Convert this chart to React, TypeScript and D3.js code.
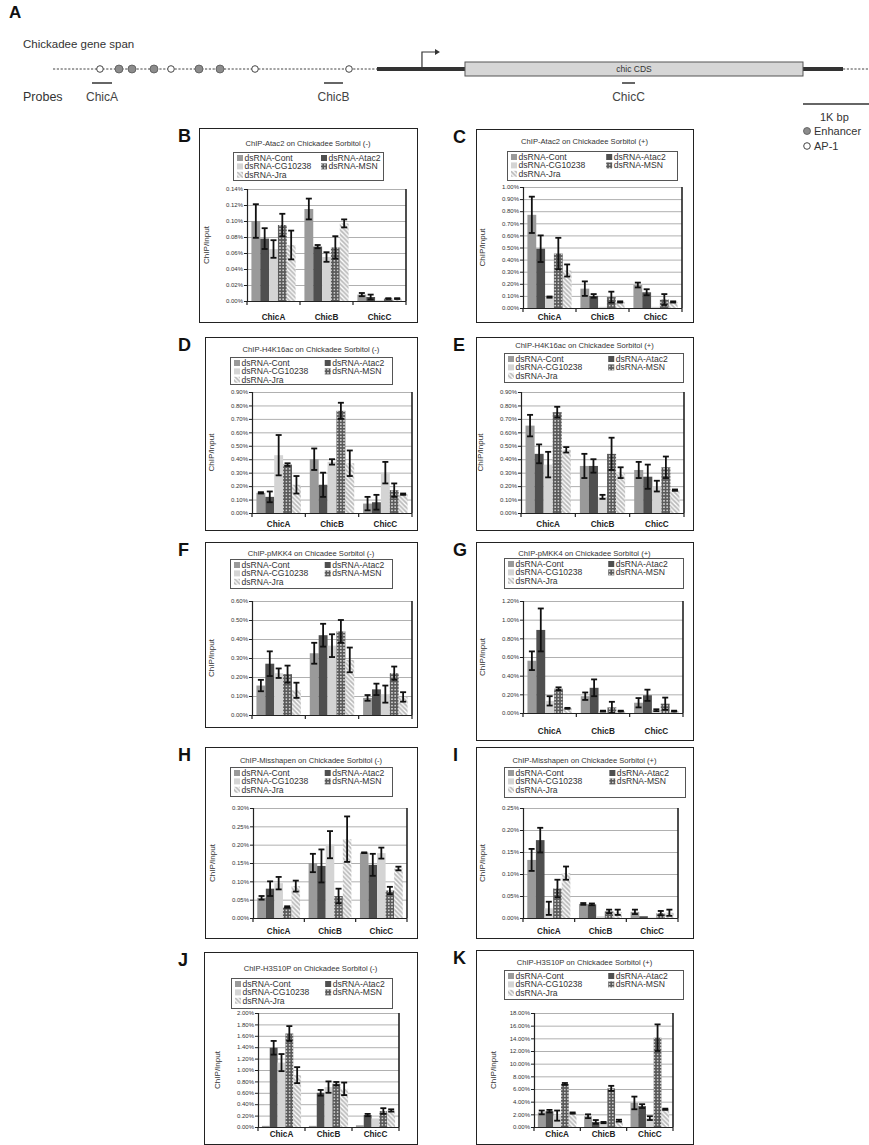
import React from 'react';
import * as d3 from 'd3';

const categories = ['ChicA', 'ChicB', 'ChicC'];
const seriesNames = ['dsRNA-Cont', 'dsRNA-Atac2', 'dsRNA-CG10238', 'dsRNA-MSN', 'dsRNA-Jra'];

// values in percent; rows = categories (ChicA, ChicB, ChicC), columns = series
const bMeans = [[0.100, 0.078, 0.065, 0.095, 0.070], [0.115, 0.068, 0.055, 0.067, 0.097], [0.008, 0.005, 0.001, 0.003, 0.003]];
const bErrors = [[0.021, 0.013, 0.011, 0.014, 0.018], [0.013, 0.002, 0.006, 0.014, 0.005], [0.002, 0.003, 0, 0.0005, 0.0005]];
const cMeans = [[0.77, 0.49, 0.09, 0.45, 0.31], [0.16, 0.10, 0.01, 0.09, 0.05], [0.19, 0.13, 0.01, 0.07, 0.05]];
const cErrors = [[0.15, 0.11, 0.005, 0.13, 0.05], [0.06, 0.015, 0, 0.045, 0.005], [0.02, 0.025, 0, 0.045, 0.005]];
const dMeans = [[0.15, 0.12, 0.43, 0.36, 0.21], [0.40, 0.21, 0.38, 0.76, 0.37], [0.07, 0.08, 0.30, 0.17, 0.14]];
const dErrors = [[0.005, 0.04, 0.15, 0.01, 0.065], [0.08, 0.09, 0.02, 0.06, 0.095], [0.05, 0.055, 0.08, 0.05, 0.005]];
const eMeans = [[0.65, 0.44, 0.36, 0.75, 0.47], [0.35, 0.35, 0.12, 0.44, 0.30], [0.32, 0.27, 0.20, 0.34, 0.17]];
const eErrors = [[0.08, 0.07, 0.095, 0.04, 0.02], [0.09, 0.05, 0.015, 0.12, 0.04], [0.06, 0.09, 0.04, 0.08, 0.005]];
const fMeans = [[0.155, 0.27, 0.22, 0.215, 0.13], [0.325, 0.42, 0.365, 0.44, 0.29], [0.09, 0.135, 0.11, 0.22, 0.095]];
const fErrors = [[0.03, 0.065, 0.025, 0.045, 0.04], [0.055, 0.06, 0.06, 0.06, 0.065], [0.015, 0.03, 0.045, 0.035, 0.025]];
const gMeans = [[0.56, 0.89, 0.13, 0.26, 0.05], [0.18, 0.27, 0.02, 0.06, 0.02], [0.11, 0.19, 0.03, 0.10, 0.02]];
const gErrors = [[0.10, 0.23, 0.05, 0.015, 0.005], [0.04, 0.09, 0.005, 0.06, 0.005], [0.05, 0.06, 0.01, 0.065, 0.005]];
const hMeans = [[0.055, 0.080, 0.095, 0.030, 0.087], [0.150, 0.142, 0.200, 0.060, 0.215], [0.178, 0.145, 0.177, 0.075, 0.135]];
const hErrors = [[0.005, 0.020, 0.017, 0.002, 0.015], [0.025, 0.045, 0.037, 0.020, 0.062], [0.001, 0.030, 0.015, 0.010, 0.005]];
const iMeans = [[0.132, 0.177, 0.022, 0.067, 0.102], [0.032, 0.031, 0.004, 0.015, 0.013], [0.014, 0.004, 0.001, 0.011, 0.012]];
const iErrors = [[0.025, 0.028, 0.015, 0.020, 0.015], [0.002, 0.002, 0, 0.004, 0.006], [0.005, 0, 0, 0.005, 0.007]];
const jMeans = [[0.02, 1.39, 1.13, 1.64, 0.91], [0.02, 0.60, 0.70, 0.76, 0.67], [0.03, 0.21, 0.15, 0.28, 0.29]];
const jErrors = [[0, 0.12, 0.15, 0.13, 0.14], [0, 0.05, 0.10, 0.03, 0.11], [0, 0.02, 0, 0.05, 0.02]];
const kMeans = [[2.3, 2.5, 1.8, 6.8, 2.2], [1.7, 0.8, 0.7, 6.1, 1.0], [3.8, 3.3, 1.4, 14.1, 2.8]];
const kErrors = [[0.3, 0.2, 0.8, 0.15, 0.1], [0.3, 0.3, 0.1, 0.4, 0.15], [1.0, 0.3, 0.3, 2.1, 0.1]];

const panelTitles = [
  'ChIP-Atac2 on Chickadee Sorbitol (-)',
  'ChIP-Atac2 on Chickadee Sorbitol (+)',
  'ChIP-H4K16ac on Chickadee Sorbitol (-)',
  'ChIP-H4K16ac on Chickadee Sorbitol (+)',
  'ChIP-pMKK4 on Chicadee Sorbitol (-)',
  'ChIP-pMKK4 on Chickadee Sorbitol (+)',
  'ChIP-Misshapen on Chickadee Sorbitol (-)',
  'ChIP-Misshapen on Chickadee Sorbitol (+)',
  'ChIP-H3S10P on Chickadee Sorbitol (-)',
  'ChIP-H3S10P on Chickadee Sorbitol (+)',
];
const panelLetters = ['B', 'C', 'D', 'E', 'F', 'G', 'H', 'I', 'J', 'K'];
const panelMeans = [bMeans, cMeans, dMeans, eMeans, fMeans, gMeans, hMeans, iMeans, jMeans, kMeans];
const panelErrors = [bErrors, cErrors, dErrors, eErrors, fErrors, gErrors, hErrors, iErrors, jErrors, kErrors];
const yMaxes = [0.14, 1.0, 0.9, 0.9, 0.6, 1.2, 0.3, 0.25, 2.0, 18];
const ySteps = [0.02, 0.1, 0.1, 0.1, 0.1, 0.2, 0.05, 0.05, 0.2, 2];

// gene diagram (base pairs)
const enhancerSites = [985, 1179, 1507, 2179, 2493];
const ap1Sites = [701, 1761, 3015, 4418];
const probeSpans = [[582, 881], [4045, 4328], [8493, 8687]];
const probeNames = ['ChicA', 'ChicB', 'ChicC'];
const geneBounds = { start: 0, utr5: 4836, tss: 5507, cdsStart: 6149, cdsEnd: 11194, utr3End: 11791, end: 12200 };

// ---- layout (pixels) ----
const layouts = [
  { box: [199, 128, 417, 322], titleY: 143, legend: [233, 152, 150, 28], plot: [247, 406, 189, 301], labelY: 317 },
  { box: [476, 129, 693, 322], titleY: 141, legend: [507, 151, 170, 29], plot: [523, 682, 187, 308], labelY: 317 },
  { box: [205, 337, 417, 530], titleY: 349, legend: [230, 357, 162, 27], plot: [252, 412, 392, 513], labelY: 524 },
  { box: [476, 337, 693, 530], titleY: 345, legend: [504, 353, 179, 29], plot: [521, 684, 392, 513], labelY: 524 },
  { box: [205, 542, 417, 727], titleY: 553, legend: [230, 559, 162, 29], plot: [252, 412, 601, 715], labelY: null },
  { box: [476, 542, 693, 740], titleY: 553, legend: [504, 558, 179, 30], plot: [523, 683, 601, 713], labelY: 731 },
  { box: [205, 747, 417, 938], titleY: 760, legend: [230, 767, 162, 29], plot: [253, 407, 808, 918], labelY: 931 },
  { box: [476, 747, 693, 938], titleY: 760, legend: [504, 767, 181, 30], plot: [523, 678, 808, 918], labelY: 931 },
  { box: [204, 952, 417, 1144], titleY: 968, legend: [231, 978, 161, 30], plot: [258, 399, 1013, 1127], labelY: 1134 },
  { box: [476, 950, 693, 1144], titleY: 962, legend: [504, 970, 179, 29], plot: [534, 673, 1013, 1127], labelY: 1134 },
];

const FONT = '"Liberation Sans", Arial, Helvetica, sans-serif';
const fills = ['#9a9a9a', '#4f4f4f', '#d4d4d4', 'url(#dots)', 'url(#stripes)'];

function Panel({ idx }: { idx: number }) {
  const L = layouts[idx];
  const means = panelMeans[idx];
  const errs = panelErrors[idx];
  const [bx0, by0, bx1, by1] = L.box;
  const [px0, px1, pyT, pyB] = L.plot;
  const y = d3.scaleLinear().domain([0, yMaxes[idx]]).range([pyB, pyT]);
  const x = d3.scaleBand().domain(categories).range([px0, px1]).padding(0);
  const inner = d3.scaleBand().domain(seriesNames).range([0, x.bandwidth()]).paddingInner(0).paddingOuter(0.5);
  const nT = Math.round(yMaxes[idx] / ySteps[idx]);
  const ticks = d3.range(nT + 1).map((i) => i * ySteps[idx]);
  const fmt = d3.format('.2f');
  const [lx, ly, lw, lh] = L.legend;
  const isLeft = bx0 < 300;
  const letterX = isLeft ? 178 : 453;
  const bw = inner.bandwidth();
  return (
    <g>
      <rect x={bx0 + 0.5} y={by0 + 0.5} width={bx1 - bx0} height={by1 - by0} fill="#fff" stroke="#222" strokeWidth={1} />
      <text x={letterX} y={by0 + 14} fontFamily={FONT} fontWeight="bold" fontSize={18} fill="#111">{panelLetters[idx]}</text>
      <text x={(bx0 + bx1) / 2} y={L.titleY + 2.5} textAnchor="middle" fontFamily={FONT} fontSize={7.6} fill="#333">{panelTitles[idx]}</text>
      <rect x={lx + 0.5} y={ly + 0.5} width={lw} height={lh} fill="#fff" stroke="#555" strokeWidth={1} />
      {seriesNames.map((s, i) => {
        const col = i % 2;
        const row = Math.floor(i / 2);
        const sx = lx + 4 + col * lw * 0.56;
        const sy = ly + 3 + row * 8.4;
        return (
          <g key={s}>
            <rect x={sx} y={sy} width={6} height={6} fill={fills[i]} />
            <text x={sx + 7.5} y={sy + 5.8} fontFamily={FONT} fontSize={8.6} fill="#333">{s}</text>
          </g>
        );
      })}
      {ticks.map((t) => (
        <g key={t}>
          <line x1={px0} x2={px1} y1={y(t) + 0.5} y2={y(t) + 0.5} stroke="#b0b0b0" strokeWidth={1} />
          <line x1={px0 - 3} x2={px0} y1={y(t) + 0.5} y2={y(t) + 0.5} stroke="#222" strokeWidth={1} />
          <text x={px0 - 4} y={y(t) + 2.2} textAnchor="end" fontFamily={FONT} fontSize={6} fill="#333">{fmt(t) + '%'}</text>
        </g>
      ))}
      {categories.map((c, ci) =>
        seriesNames.map((s, si) => {
          const v = means[ci][si];
          const e = errs[ci][si];
          const x0 = (x(c) as number) + (inner(s) as number);
          const cx = x0 + bw / 2;
          return (
            <g key={c + s}>
              <rect x={x0} y={y(v)} width={bw} height={pyB - y(v)} fill={fills[si]} />
              {e > 0 && (
                <g stroke="#111" strokeWidth={1.8}>
                  <line x1={cx} x2={cx} y1={y(v + e)} y2={y(Math.max(0, v - e))} />
                  <line x1={cx - 3} x2={cx + 3} y1={y(v + e)} y2={y(v + e)} />
                  <line x1={cx - 3} x2={cx + 3} y1={y(Math.max(0, v - e))} y2={y(Math.max(0, v - e))} />
                </g>
              )}
            </g>
          );
        })
      )}
      <line x1={px1} x2={px1} y1={pyT} y2={pyB} stroke="#222" strokeWidth={1.6} />
      <line x1={px0 + 0.5} x2={px0 + 0.5} y1={pyT} y2={pyB + 1} stroke="#222" strokeWidth={1.2} />
      <line x1={px0} x2={px1} y1={pyB + 0.5} y2={pyB + 0.5} stroke="#222" strokeWidth={1.2} />
      {[...categories.map((c) => x(c) as number), px1].map((tx, i) => (
        <line key={i} x1={tx} x2={tx} y1={pyB} y2={pyB + 4} stroke="#222" strokeWidth={1.2} />
      ))}
      {L.labelY !== null &&
        categories.map((c) => (
          <text key={c} x={(x(c) as number) + x.bandwidth() / 2} y={(L.labelY as number) + 3} textAnchor="middle" fontFamily={FONT} fontWeight="bold" fontSize={8.2} fill="#222">{c}</text>
        ))}
      <text transform={`translate(${px0 - 38},${(pyT + pyB) / 2}) rotate(-90)`} textAnchor="middle" fontFamily={FONT} fontSize={8} fill="#333">ChIP/Input</text>
    </g>
  );
}

function Diagram() {
  const gx = d3.scaleLinear().domain([0, 1000]).range([53, 120]);
  const lineY = 69;
  return (
    <g fontFamily={FONT}>
      <text x={9} y={18} fontSize={17} fontWeight="bold" fill="#111">A</text>
      <text x={23} y={48} fontSize={11.5} fill="#333">Chickadee gene span</text>
      <line x1={gx(geneBounds.start)} x2={gx(geneBounds.utr5)} y1={lineY} y2={lineY} stroke="#444" strokeWidth={1} strokeDasharray="2.2,1.6" />
      <line x1={gx(geneBounds.utr5)} x2={gx(geneBounds.cdsStart)} y1={lineY} y2={lineY} stroke="#333" strokeWidth={4} />
      <line x1={gx(geneBounds.cdsEnd)} x2={gx(geneBounds.utr3End)} y1={lineY} y2={lineY} stroke="#333" strokeWidth={4} />
      <line x1={gx(geneBounds.utr3End)} x2={gx(geneBounds.end)} y1={lineY} y2={lineY} stroke="#444" strokeWidth={1} strokeDasharray="2.2,1.6" />
      <rect x={gx(geneBounds.cdsStart)} y={62} width={gx(geneBounds.cdsEnd) - gx(geneBounds.cdsStart)} height={14} fill="#d6d6d6" stroke="#555" strokeWidth={1} />
      <text x={(gx(geneBounds.cdsStart) + gx(geneBounds.cdsEnd)) / 2} y={72} textAnchor="middle" fontSize={8.5} fill="#333">chic CDS</text>
      <path d={`M${gx(geneBounds.tss)},${lineY} V52 H${gx(geneBounds.tss) + 14}`} fill="none" stroke="#333" strokeWidth={1.2} />
      <path d={`M${gx(geneBounds.tss) + 18},52 l-5,-3 v6 z`} fill="#333" />
      {ap1Sites.map((s) => (
        <circle key={'o' + s} cx={gx(s)} cy={lineY} r={3.3} fill="#fff" stroke="#444" strokeWidth={1} />
      ))}
      {enhancerSites.map((s) => (
        <circle key={'f' + s} cx={gx(s)} cy={lineY} r={4} fill="#8c8c8c" stroke="#555" strokeWidth={0.8} />
      ))}
      {probeSpans.map((p, i) => (
        <g key={i}>
          <line x1={gx(p[0])} x2={gx(p[1])} y1={83} y2={83} stroke="#333" strokeWidth={1.5} />
          <text x={(gx(p[0]) + gx(p[1])) / 2} y={101} textAnchor="middle" fontSize={12} fill="#444">{probeNames[i]}</text>
        </g>
      ))}
      <text x={23} y={101} fontSize={12.5} fill="#333">Probes</text>
      <line x1={803} x2={803 + gx(1000) - gx(0)} y1={104} y2={104} stroke="#333" strokeWidth={1.5} />
      <text x={820} y={121} fontSize={11} fill="#333">1K bp</text>
      <circle cx={807} cy={131} r={3.5} fill="#8c8c8c" stroke="#555" strokeWidth={0.8} />
      <text x={814} y={135} fontSize={11} fill="#333">Enhancer</text>
      <circle cx={807} cy={146} r={3.3} fill="#fff" stroke="#444" strokeWidth={1} />
      <text x={814} y={150} fontSize={11} fill="#333">AP-1</text>
    </g>
  );
}

export default function App() {
  return (
    <div style={{ position: 'absolute', left: 0, top: 0, background: '#fff' }}>
      <svg width={869} height={1145} viewBox="0 0 869 1145" style={{ display: 'block' }}>
        <defs>
          <pattern id="dots" width={3.2} height={3.2} patternUnits="userSpaceOnUse">
            <rect width={3.2} height={3.2} fill="#5a5a5a" />
            <circle cx={1.6} cy={1.6} r={0.75} fill="#fff" />
          </pattern>
          <pattern id="stripes" width={4.5} height={4.5} patternUnits="userSpaceOnUse">
            <rect width={4.5} height={4.5} fill="#bdbdbd" />
            <path d="M-1,-1 L5.5,5.5 M-1,3.5 L1,5.5 M3.5,-1 L5.5,1" stroke="#fff" strokeWidth={1.3} />
          </pattern>
        </defs>
        <rect width={869} height={1145} fill="#fff" />
        <Diagram />
        {layouts.map((_, i) => (
          <Panel key={i} idx={i} />
        ))}
      </svg>
    </div>
  );
}
